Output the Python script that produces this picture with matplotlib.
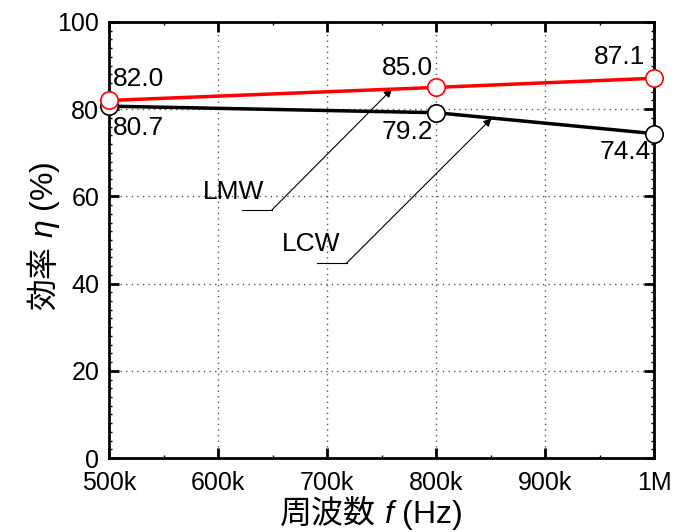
import matplotlib
matplotlib.use("Agg")
import matplotlib.pyplot as plt
from matplotlib.ticker import MultipleLocator

plt.rcParams["font.family"] = ["Liberation Sans", "Noto Sans CJK JP"]
plt.rcParams["mathtext.fontset"] = "custom"
plt.rcParams["mathtext.rm"] = "Liberation Sans"
plt.rcParams["mathtext.it"] = "Liberation Sans:italic"

# frequency in kHz
freq = [500, 800, 1000]
eff_lmw = [82.0, 85.0, 87.1]
eff_lcw = [80.7, 79.2, 74.4]
x_ticks = [500, 600, 700, 800, 900, 1000]
x_ticklabels = ["500k", "600k", "700k", "800k", "900k", "1M"]

W, H = 679, 532
fig = plt.figure(figsize=(W / 100, H / 100), dpi=100)
ax = fig.add_axes([109 / W, 1 - 458 / H, 545 / W, 436 / H])

ax.plot(freq, eff_lcw, color="black", lw=2.5, marker="o", ms=12.5,
        mfc="white", mec="black", mew=1.2, zorder=3, clip_on=False)
ax.plot(freq, eff_lmw, color="red", lw=2.5, marker="o", ms=12.5,
        mfc="white", mec="red", mew=1.2, zorder=4, clip_on=False)

ax.set_xlim(500, 1000)
ax.set_ylim(0, 100)
ax.set_xticks(x_ticks)
ax.set_xticklabels(x_ticklabels)
ax.xaxis.set_minor_locator(MultipleLocator(50))
ax.yaxis.set_major_locator(MultipleLocator(20))
ax.yaxis.set_minor_locator(MultipleLocator(2))
ax.tick_params(which="both", direction="in", top=True, right=True, labelsize=18)
ax.tick_params(which="major", length=7, width=2)
ax.tick_params(which="minor", length=2.5, width=1)
ax.tick_params(axis="x", which="major", pad=9)
ax.tick_params(axis="y", which="major", pad=7)
ax.grid(True, which="major", linestyle=(0, (1, 3)), color="#555555", lw=1)
for s in ax.spines.values():
    s.set_linewidth(2)

fs = 19
ax.text(504, 86.9, f"{eff_lmw[0]:.1f}", fontsize=fs, ha="left", va="center")
ax.text(504, 75.7, f"{eff_lcw[0]:.1f}", fontsize=fs, ha="left", va="center")
ax.text(797, 89.4, f"{eff_lmw[1]:.1f}", fontsize=fs, ha="right", va="center")
ax.text(797, 74.8, f"{eff_lcw[1]:.1f}", fontsize=fs, ha="right", va="center")
ax.text(992, 92.0, f"{eff_lmw[2]:.1f}", fontsize=fs, ha="right", va="center")
ax.text(997, 70.2, f"{eff_lcw[2]:.1f}", fontsize=fs, ha="right", va="center")

# series callouts
ax.text(614, 61.0, "LMW", fontsize=fs, ha="center", va="center")
ax.plot([622, 649.5], [56.9, 56.9], color="black", lw=0.8)
ax.annotate("", xy=(759.6, 84.6), xytext=(649.5, 56.9),
            arrowprops=dict(arrowstyle="-|>", color="black", lw=0.8,
                            mutation_scale=12, shrinkA=0, shrinkB=0))
ax.text(685, 49.0, "LCW", fontsize=fs, ha="center", va="center")
ax.plot([690.8, 718], [44.7, 44.7], color="black", lw=0.8)
ax.annotate("", xy=(851, 77.9), xytext=(718, 44.7),
            arrowprops=dict(arrowstyle="-|>", color="black", lw=0.8,
                            mutation_scale=12, shrinkA=0, shrinkB=0))

# axis titles: Japanese part and symbol/unit part drawn as two texts
# sharing one baseline, then centred together
gap = 8
xl_jp = fig.text(0, 1 - 523 / H, "周波数", family="Noto Sans CJK JP",
                 fontsize=23, va="baseline", ha="left")
xl_sym = fig.text(0, 1 - 523 / H, "$f$ (Hz)", fontsize=23,
                  va="baseline", ha="left")
yl_jp = fig.text(53 / W, 0, "効率", family="Noto Sans CJK JP", fontsize=23,
                 rotation=90, rotation_mode="anchor", va="baseline", ha="left")
yl_sym = fig.text(53 / W, 0, "$\\eta$ (%)", fontsize=23,
                  rotation=90, rotation_mode="anchor", va="baseline", ha="left")

fig.canvas.draw()
r = fig.canvas.get_renderer()
w1 = xl_jp.get_window_extent(r).width
w2 = xl_sym.get_window_extent(r).width
x0 = 371 - (w1 + gap + w2) / 2
xl_jp.set_x(x0 / W)
xl_sym.set_x((x0 + w1 + gap) / W)

h1 = yl_jp.get_window_extent(r).height
h2 = yl_sym.get_window_extent(r).height
y0 = (H - 236) - (h1 + gap + h2) / 2
yl_jp.set_y(y0 / H)
yl_sym.set_y((y0 + h1 + gap) / H)

fig.savefig("out.png", dpi=100)
